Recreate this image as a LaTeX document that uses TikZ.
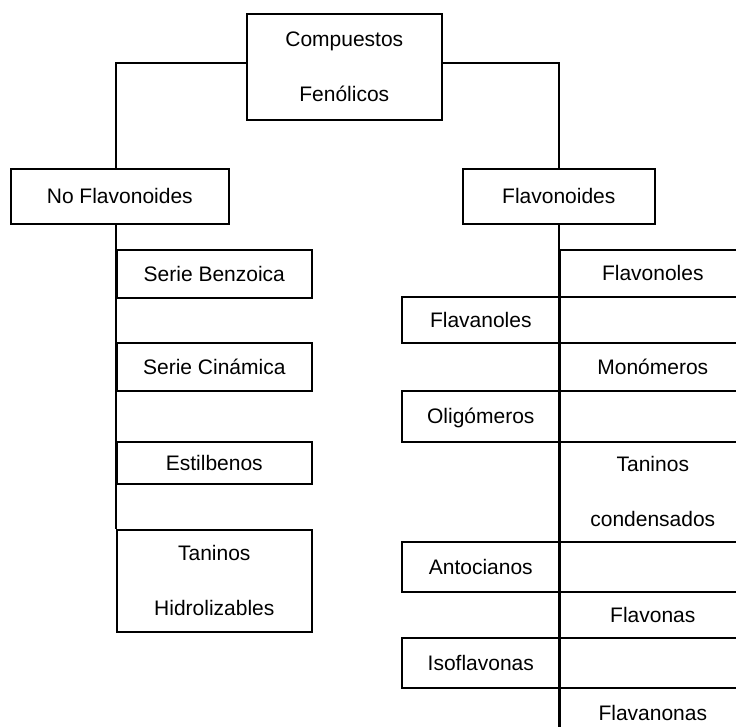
\documentclass[tikz,border=0pt]{standalone}
\usepackage{fontspec}
\setmainfont{Liberation Sans}
\begin{document}
\begin{tikzpicture}[x=1pt,y=-1pt,
  bx/.style={draw, line width=1.6pt, inner sep=0pt, anchor=north west, align=center,
    font=\fontsize{21}{55}\selectfont, text height=15pt, text depth=0pt},
  two/.style={text height=70pt},
  ln/.style={line width=1.6pt}]
\useasboundingbox (0,0) rectangle (736,727);
\clip (0,0) rectangle (736,727);
% top
\node[bx, two, minimum width=195pt, minimum height=106pt] (top) at (246,13) {Compuestos\\Fenólicos};
\node[bx, minimum width=218pt, minimum height=55pt] (nof) at (10,168) {No Flavonoides};
\node[bx, minimum width=192pt, minimum height=55pt] (fla) at (462,168) {Flavonoides};
% left column
\node[bx, minimum width=195pt, minimum height=48pt] (sb) at (116,249) {Serie Benzoica};
\node[bx, minimum width=195pt, minimum height=48pt] (sc) at (116,342) {Serie Cinámica};
\node[bx, minimum width=195pt, minimum height=42pt] (es) at (116,441) {Estilbenos};
\node[bx, two, minimum width=195pt, minimum height=102pt] (th) at (116,529) {Taninos\\Hidrolizables};
% right column, right side
\node[bx, minimum width=186pt, minimum height=47pt] (flvl) at (559,249) {Flavonoles};
\node[bx, minimum width=186pt, minimum height=48pt] (mono) at (559,342) {Monómeros};
\node[bx, two, minimum width=186pt, minimum height=100pt] (tc) at (559,441) {Taninos\\condensados};
\node[bx, minimum width=186pt, minimum height=46pt] (flvn) at (559,591) {Flavonas};
\node[bx, minimum width=186pt, minimum height=50pt] (flnn) at (559,687) {Flavanonas};
% right column, left side
\node[bx, minimum width=158pt, minimum height=46pt] (flan) at (401,296) {Flavanoles};
\node[bx, minimum width=158pt, minimum height=51pt] (olig) at (401,390) {Oligómeros};
\node[bx, minimum width=158pt, minimum height=50pt] (anto) at (401,541) {Antocianos};
\node[bx, minimum width=158pt, minimum height=50pt] (iso) at (401,637) {Isoflavonas};
% connectors
\draw[ln] ([yshift=4pt]top.west) -| (sb.west |- nof.north);
\draw[ln] ([yshift=4pt]top.east) -| (flvl.west |- fla.north);
\draw[ln] (sb.west |- nof.south) -- (th.north west);
\draw[ln] (flvl.west |- fla.south) -- (flnn.south west);
\end{tikzpicture}
\end{document}
